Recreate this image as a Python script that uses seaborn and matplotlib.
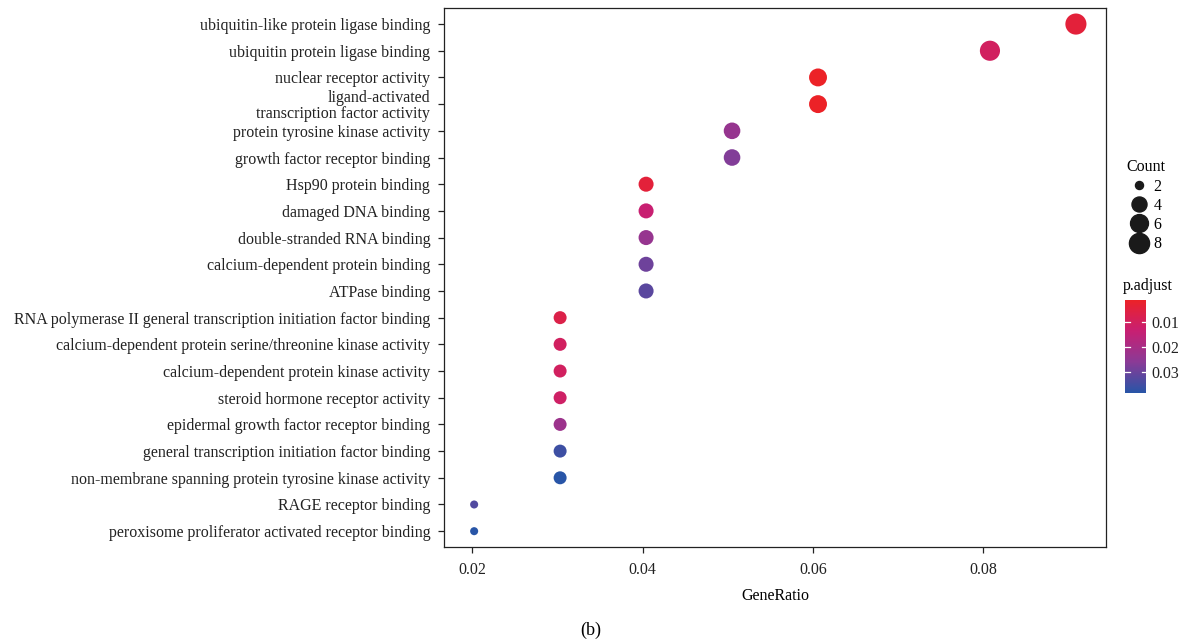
import numpy as np
import pandas as pd
import matplotlib
matplotlib.use("Agg")
import matplotlib.pyplot as plt
import seaborn as sns
from matplotlib.colors import LinearSegmentedColormap, Normalize
from matplotlib.lines import Line2D

# --- data ---
terms = [
    "ubiquitin-like protein ligase binding",
    "ubiquitin protein ligase binding",
    "nuclear receptor activity",
    "ligand-activated\ntranscription factor activity",
    "protein tyrosine kinase activity",
    "growth factor receptor binding",
    "Hsp90 protein binding",
    "damaged DNA binding",
    "double-stranded RNA binding",
    "calcium-dependent protein binding",
    "ATPase binding",
    "RNA polymerase II general transcription initiation factor binding",
    "calcium-dependent protein serine/threonine kinase activity",
    "calcium-dependent protein kinase activity",
    "steroid hormone receptor activity",
    "epidermal growth factor receptor binding",
    "general transcription initiation factor binding",
    "non-membrane spanning protein tyrosine kinase activity",
    "RAGE receptor binding",
    "peroxisome proliferator activated receptor binding",
]
counts = [9, 8, 6, 6, 5, 5, 4, 4, 4, 4, 4, 3, 3, 3, 3, 3, 3, 3, 2, 2]
gene_ratio = [c / 99 for c in counts]
p_adjust = [0.0045, 0.0105, 0.0013, 0.0013, 0.0235, 0.027, 0.0045, 0.0135,
            0.0235, 0.0295, 0.032, 0.007, 0.0105, 0.0105, 0.0115, 0.0225,
            0.0355, 0.0382, 0.033, 0.0382]
size_breaks = [2, 4, 6, 8]
cbar_ticks = [0.01, 0.02, 0.03]

df = pd.DataFrame({"term": terms, "GeneRatio": gene_ratio,
                   "Count": counts, "p.adjust": p_adjust})

# --- style ---
plt.rcParams["font.family"] = ["Liberation Serif", "DejaVu Serif"]
FS = 11.5
cmap = LinearSegmentedColormap.from_list(
    "padj", ["#EC2227", "#C81F72", "#8B3A96", "#2855A7"])
norm = Normalize(vmin=min(p_adjust), vmax=max(p_adjust))

# ggplot-like size scale: diameter linear in sqrt of rescaled count
cmin, cmax = min(counts), max(counts)
d_lo, d_hi = 5.8, 15.2  # points


def marker_area(c):
    d = d_lo + (d_hi - d_lo) * np.sqrt((c - cmin) / (cmax - cmin))
    return d ** 2


size_map = {c: marker_area(c) for c in sorted(set(counts))}

fig = plt.figure(figsize=(11.81, 6.43), dpi=100)
ax = fig.add_axes([0.376, 0.149, 0.5605, 0.8385])

sns.scatterplot(data=df, x="GeneRatio", y="term", hue="p.adjust",
                palette=cmap, hue_norm=norm, size="Count", sizes=size_map,
                linewidth=0, legend=False, ax=ax)

span = max(gene_ratio) - min(gene_ratio)
ax.set_xlim(min(gene_ratio) - 0.05 * span, max(gene_ratio) + 0.05 * span)
ax.set_ylim(len(terms) - 0.4, -0.6)
ax.set_xticks([0.02, 0.04, 0.06, 0.08])
ax.set_xticklabels(["0.02", "0.04", "0.06", "0.08"])
ax.set_xlabel("GeneRatio", fontsize=FS, labelpad=7)
ax.set_ylabel("")
ax.tick_params(axis="both", labelsize=FS, colors="#222222", length=4,
               width=0.9, pad=7)
ax.tick_params(axis="y", labelsize=FS, pad=6)
for lab in ax.get_yticklabels():
    lab.set_linespacing(1.0)
for sp in ax.spines.values():
    sp.set_linewidth(0.9)
    sp.set_color("#222222")

# Count legend
handles = [Line2D([], [], marker="o", linestyle="", color="#1a1a1a",
                  markersize=np.sqrt(marker_area(c)), label=str(c))
           for c in size_breaks]
leg = fig.legend(handles=handles, title="Count", loc="upper left",
                 bbox_to_anchor=(0.948, 0.762), frameon=False,
                 fontsize=FS, title_fontsize=FS, handletextpad=0.3,
                 labelspacing=0.2, borderaxespad=0, handlelength=1.2)

# p.adjust colourbar
cax = fig.add_axes([0.953, 0.389, 0.017, 0.145])
sm = plt.cm.ScalarMappable(norm=norm, cmap=cmap)
cb = fig.colorbar(sm, cax=cax, ticks=cbar_ticks)
cb.outline.set_visible(False)
cax.invert_yaxis()
cax.tick_params(length=0, labelsize=FS, pad=4, colors="#222222")
for t in cbar_ticks:
    cax.plot([0, 0.2], [t, t], color="white", lw=0.9, transform=cax.get_yaxis_transform())
    cax.plot([0.8, 1], [t, t], color="white", lw=0.9, transform=cax.get_yaxis_transform())
fig.text(0.951, 0.543, "p.adjust", fontsize=FS, ha="left", va="bottom")

fig.text(0.5, 0.02, "(b)", fontsize=13, ha="center", va="center")

fig.savefig("out.png", dpi=100)
